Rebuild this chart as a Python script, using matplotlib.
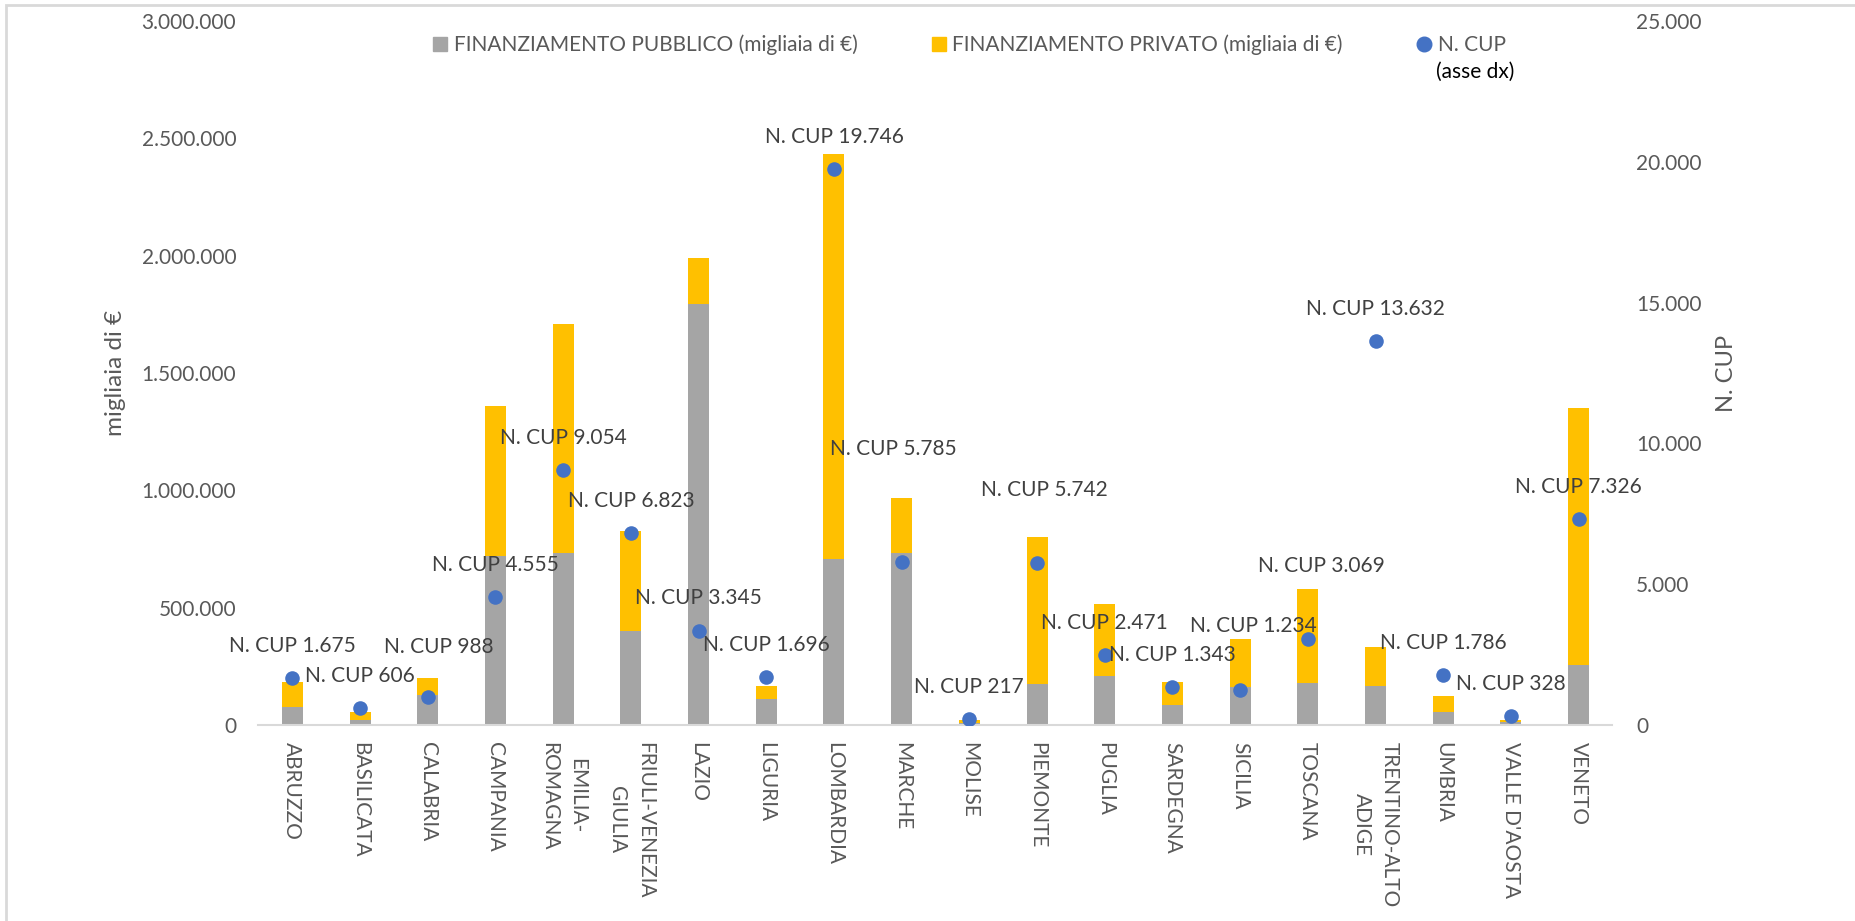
import matplotlib
matplotlib.use("Agg")
import matplotlib.pyplot as plt
from matplotlib.lines import Line2D
from matplotlib.patches import Rectangle
from matplotlib.text import Annotation
import numpy as np

plt.rcParams['font.family'] = ['Lato', 'DejaVu Sans']

# ---------------- data ----------------
regions = ['ABRUZZO', 'BASILICATA', 'CALABRIA', 'CAMPANIA', 'EMILIA-\nROMAGNA',
           'FRIULI-VENEZIA\nGIULIA', 'LAZIO', 'LIGURIA', 'LOMBARDIA', 'MARCHE',
           'MOLISE', 'PIEMONTE', 'PUGLIA', 'SARDEGNA', 'SICILIA', 'TOSCANA',
           'TRENTINO-ALTO\nADIGE', 'UMBRIA', "VALLE D'AOSTA", 'VENETO']
pubblico = [78000, 21000, 128000, 721000, 734000, 402000, 1794000, 110000, 706000, 732000,
            10000, 176000, 210000, 85000, 161000, 179000, 168000, 55000, 13000, 254000]
privato = [105000, 33000, 71000, 638000, 975000, 425000, 195000, 56000, 1726000, 234000,
           11000, 626000, 304000, 97000, 204000, 402000, 164000, 67000, 10000, 1097000]
n_cup = [1675, 606, 988, 4555, 9054, 6823, 3345, 1696, 19746, 5785,
         217, 5742, 2471, 1343, 1234, 3069, 13632, 1786, 328, 7326]

legend_labels = ['FINANZIAMENTO PUBBLICO (migliaia di €)',
                 'FINANZIAMENTO PRIVATO (migliaia di €)',
                 'N. CUP']

# label offsets (pixels, from point to label centre)
label_offsets = [(0, 32), (0, 32), (11, 50), (0, 32), (0, 32), (0, 32), (0, 33), (0, 32),
                 (0, 32), (-8, 113), (0, 32), (7, 73), (0, 32), (0, 32), (13, 64), (14, 73),
                 (0, 32), (0, 32), (0, 32), (0, 32)]

C_PUB = '#A5A5A5'
C_PRIV = '#FFC000'
C_CUP = '#4472C4'
C_TXT = '#595959'
C_LBL = '#404040'

W, H = 1856, 921
fig = plt.figure(figsize=(W / 100, H / 100), dpi=100)
ax_left, ax_right, ax_top, ax_bot = 258.5, 1612.5, 21, 725
ax = fig.add_axes([ax_left / W, (H - ax_bot) / H, (ax_right - ax_left) / W, (ax_bot - ax_top) / H])

x = np.arange(len(regions))
bw = 0.31
ax.bar(x, pubblico, width=bw, color=C_PUB, zorder=2)
ax.bar(x, privato, width=bw, bottom=pubblico, color=C_PRIV, zorder=2)

ax.set_xlim(-0.5, len(regions) - 0.5)
ax.set_ylim(0, 3000000)
ax.set_yticks(np.arange(0, 3000001, 500000))


def fmt_it(v):
    return f'{int(v):,}'.replace(',', '.')


ax.set_yticklabels([fmt_it(v) for v in ax.get_yticks()])
ax.tick_params(axis='y', length=0, pad=16, labelsize=15, labelcolor=C_TXT)
ax.set_xticks(x)
ax.set_xticklabels(regions, rotation=-90, ha='center', va='top', multialignment='center',
                   linespacing=1.5)
ax.tick_params(axis='x', length=0, pad=12, labelsize=15, labelcolor=C_TXT)

for s in ['left', 'right', 'top']:
    ax.spines[s].set_visible(False)
ax.spines['bottom'].set_color('#D9D9D9')
ax.spines['bottom'].set_linewidth(1.5)

ax.set_ylabel('migliaia di €', color=C_TXT, va='center')
ax.yaxis.label.set_fontsize(17.5)
ax.yaxis.set_label_coords((116 - ax_left) / (ax_right - ax_left), 0.5)

ax2 = ax.twinx()
ax2.set_ylim(0, 25000)
ax2.set_yticks(np.arange(0, 25001, 5000))
ax2.set_yticklabels([fmt_it(v) for v in ax2.get_yticks()])
ax2.tick_params(axis='y', length=0, pad=17, labelsize=15, labelcolor=C_TXT)
for s in ['left', 'right', 'top', 'bottom']:
    ax2.spines[s].set_visible(False)
ax2.set_ylabel('N. CUP', color=C_TXT, va='center')
ax2.yaxis.label.set_fontsize(17)
ax2.yaxis.set_label_coords((1727 - ax_left) / (ax_right - ax_left), 0.5)

ax2.scatter(x, n_cup, s=110, color=C_CUP, zorder=3, linewidths=0)
for xi, v, (dx, dy) in zip(x, n_cup, label_offsets):
    ax2.annotate(f'N. CUP {fmt_it(v)}', (xi, v), xytext=(dx, dy), textcoords='offset pixels',
                 ha='center', va='center', fontsize=15, color=C_LBL, zorder=4)

# legend
handles = [Line2D([], [], marker='s', ls='none', color=C_PUB, markersize=10),
           Line2D([], [], marker='s', ls='none', color=C_PRIV, markersize=10),
           Line2D([], [], marker='o', ls='none', color=C_CUP, markersize=10.5)]
leg = fig.legend(handles, legend_labels, loc='center left', bbox_to_anchor=(433 / W, 1 - 45 / H),
                 ncol=3, frameon=False, fontsize=15, handlelength=0.7, handletextpad=0.3,
                 columnspacing=3.55, borderaxespad=0, borderpad=0)
leg.set_zorder(5)
for t in leg.get_texts():
    t.set_color(C_TXT)
note = Annotation('(asse dx)', xy=(0, 0.5), xycoords=leg.get_texts()[2], xytext=(-2, -27),
                  textcoords='offset pixels', ha='left', va='center', fontsize=15, color='black')
note.set_zorder(10)
fig.add_artist(note)

# chart-area border
fig.add_artist(Rectangle((6 / W, -0.05), 1.2, 1.05 - 5 / H, transform=fig.transFigure,
                         fill=False, edgecolor='#D9D9D9', linewidth=2))

fig.savefig('out.png', dpi=100)
